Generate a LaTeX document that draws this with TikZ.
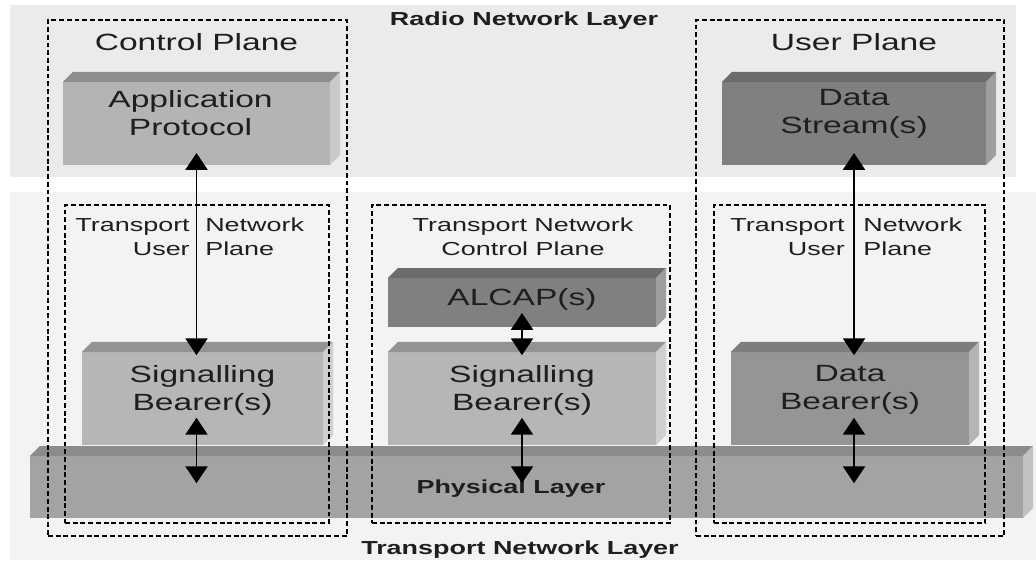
\documentclass[tikz,border=0pt]{standalone}
\usepackage{fontspec}
\setmainfont{Liberation Sans}[FakeStretch=1.43]
\usetikzlibrary{arrows.meta, positioning}

\definecolor{rnlbg}{HTML}{EBEBEB}
\definecolor{tnlbg}{HTML}{F3F3F3}
\definecolor{txt}{HTML}{1E1E1E}
\definecolor{appfront}{HTML}{B4B4B4}
\definecolor{apptop}{HTML}{8E8E8E}
\definecolor{appside}{HTML}{CACACA}
\definecolor{darkfront}{HTML}{808080}
\definecolor{darktop}{HTML}{6C6C6C}
\definecolor{darkside}{HTML}{9E9E9E}
\definecolor{sigfront}{HTML}{B6B6B6}
\definecolor{sigtop}{HTML}{939393}
\definecolor{sigside}{HTML}{CFCFCF}
\definecolor{dbfront}{HTML}{959595}
\definecolor{dbtop}{HTML}{7D7D7D}
\definecolor{dbside}{HTML}{B5B5B5}
\definecolor{physfront}{HTML}{A3A3A3}
\definecolor{phystop}{HTML}{8C8C8C}
\definecolor{physside}{HTML}{C2C2C2}

% front face is a node, top and side faces are filled behind it
\newcommand{\slabfaces}[3]{%
  \fill[#2] (#1.north west) -- ++(0.25cm,0.25cm)
    -- ([shift={(0.25cm,0.25cm)}]#1.north east) -- (#1.north east) -- cycle;
  \fill[#3] (#1.north east) -- ++(0.25cm,0.25cm)
    -- ([shift={(0.25cm,0.25cm)}]#1.south east) -- (#1.south east) -- cycle;
}

\begin{document}
\begin{tikzpicture}[
    x=0.025cm, y=-0.025cm,
    slab/.style={inner sep=0pt, outer sep=0pt},
    plane/.style={draw=black, line width=0.9pt, dash pattern=on 3.5pt off 2pt,
                  inner sep=0pt},
    big/.style={font=\fontsize{16.7}{19.8}\selectfont, align=center, text=txt},
    small/.style={font=\fontsize{13.4}{17}\selectfont, text=txt, inner sep=0pt},
    layer/.style={font=\bfseries\fontsize{13.4}{16}\selectfont, text=txt},
    dbl/.style={{Triangle[width=0.55cm, length=0.42cm]}-{Triangle[width=0.55cm, length=0.42cm]},
                line width=1.35pt}
  ]
  \useasboundingbox (0,0) rectangle (1036,562);

  % Layer backgrounds
  \fill[rnlbg] (10,5) rectangle (1016,177);
  \fill[tnlbg] (10,192) rectangle (1036,560);
  \node[layer] (rnl) at (524,21) {Radio Network Layer};
  \node[layer] (tnl) at (520,550) {Transport Network Layer};

  % Protocol blocks
  \node[slab, fill=physfront, minimum width=24.825cm, minimum height=1.55cm,
        label={[layer, xshift=-0.39cm, yshift=-0.05cm]center:Physical Layer}]
    (phys) at (526.5,487) {};
  \slabfaces{phys}{phystop}{physside}

  \node[slab, fill=appfront, minimum width=6.675cm, minimum height=2.075cm,
        label={[big, xshift=-0.15cm, yshift=0.25cm]center:Application\\Protocol}]
    (app) at (196.5,123.5) {};
  \slabfaces{app}{apptop}{appside}

  \node[slab, fill=darkfront, minimum width=6.6cm, minimum height=2.075cm,
        label={[big, yshift=0.25cm]center:Data\\Stream(s)}]
    (stream) at (854,123.5) {};
  \slabfaces{stream}{darktop}{darkside}

  \node[slab, fill=sigfront, minimum width=6.025cm, minimum height=2.325cm,
        label={[big, yshift=0.21cm]center:Signalling\\Bearer(s)}]
    (sigL) at (202.5,398.5) {};
  \slabfaces{sigL}{sigtop}{sigside}

  \node[slab, fill=darkfront, minimum width=6.7cm, minimum height=1.225cm,
        label={[big, yshift=0.08cm]center:ALCAP(s)}]
    (alcap) at (522,302.5) {};
  \slabfaces{alcap}{darktop}{darkside}

  \node[slab, fill=sigfront, minimum width=6.7cm, minimum height=2.325cm,
        label={[big, yshift=0.21cm]center:Signalling\\Bearer(s)}]
    (sigM) at (522,398.5) {};
  \slabfaces{sigM}{sigtop}{sigside}

  \node[slab, fill=dbfront, minimum width=5.95cm, minimum height=2.325cm,
        label={[big, yshift=0.21cm]center:Data\\Bearer(s)}]
    (dbear) at (850,398.5) {};
  \slabfaces{dbear}{dbtop}{dbside}

  % Planes
  \node[plane, minimum width=7.475cm, minimum height=12.9cm] (cp) at (197.5,278) {};
  \node[plane, minimum width=7.7cm, minimum height=12.9cm] (up) at (850,278) {};
  \node[plane, minimum width=6.6cm, minimum height=7.95cm] (tnupL) at (197,364) {};
  \node[plane, minimum width=7.45cm, minimum height=7.95cm] (tncp) at (521,364) {};
  \node[plane, minimum width=6.775cm, minimum height=7.95cm] (tnupR) at (849.5,364) {};

  \node[big] (cpl) at (196.5,42) {Control Plane};
  \node[big] (upl) at (854,42) {User Plane};
  \node[small, align=right, anchor=east] (tnupLa) at (190,237) {Transport\\User};
  \node[small, align=left, anchor=west] (tnupLb) at (205,237) {Network\\Plane};
  \node[small, align=center] (tncpl) at (523,237) {Transport Network\\Control Plane};
  \node[small, align=right, anchor=east] (tnupRa) at (845,237) {Transport\\User};
  \node[small, align=left, anchor=west] (tnupRb) at (863,237) {Network\\Plane};

  % Peer links between layers
  \draw[dbl] ([yshift=0.3cm]app.south) -- ([yshift=-0.08cm]app.south |- sigL.north);
  \draw[dbl] ([yshift=0.3cm]stream.south) -- ([yshift=-0.08cm]stream.south |- dbear.north);
  \draw[dbl] ([yshift=0.35cm]alcap.south) -- ([yshift=-0.08cm]alcap.south |- sigM.north);
  \draw[dbl] ([yshift=0.68cm]app.south |- sigL.south) -- ([yshift=-0.68cm]app.south |- phys.north);
  \draw[dbl] ([yshift=0.68cm]alcap.south |- sigM.south) -- ([yshift=-0.68cm]alcap.south |- phys.north);
  \draw[dbl] ([yshift=0.68cm]stream.south |- dbear.south) -- ([yshift=-0.68cm]stream.south |- phys.north);
\end{tikzpicture}
\end{document}
